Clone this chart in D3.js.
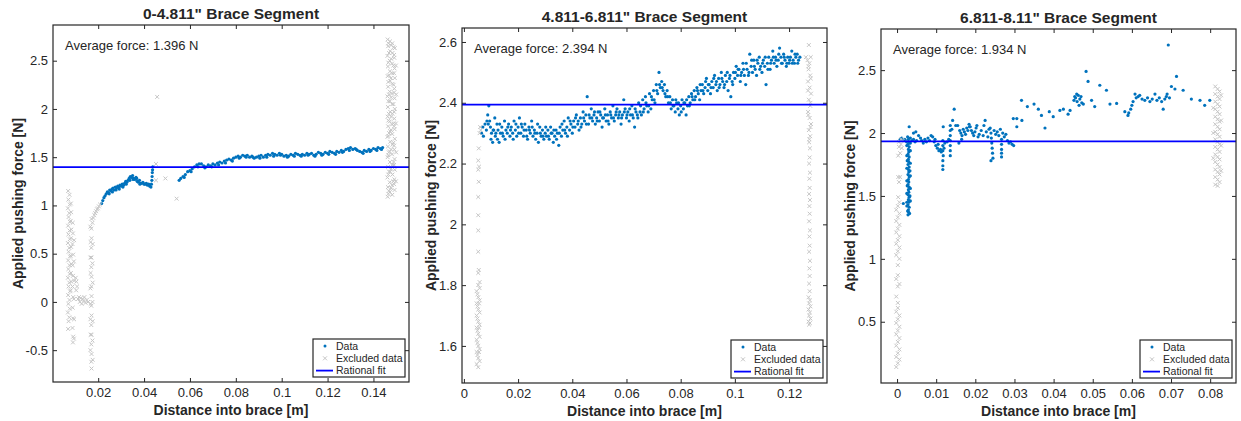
<!DOCTYPE html>
<html>
<head>
<meta charset="utf-8">
<script src="https://cdn.jsdelivr.net/npm/d3@7"></script>
<style>
  body { margin: 0; background: #fff; }
  text { font-family: "Liberation Sans", Arial, Helvetica, sans-serif; fill: #262626; }
</style>
</head>
<body>
<svg id="chart" width="1241" height="421"></svg>
<script>
// ---- values ----
const titles = ['0-4.811" Brace Segment', '4.811-6.811" Brace Segment', '6.811-8.11" Brace Segment'];
const averages = [1.396, 2.394, 1.934];
const xDomains = [[0.0003, 0.1555], [-0.0007, 0.134], [-0.0041, 0.0866]];
const yDomains = [[-0.83, 2.87], [1.478, 2.646], [0.013, 2.827]];
const xTicks = [[0.02, 0.04, 0.06, 0.08, 0.1, 0.12, 0.14], [0, 0.02, 0.04, 0.06, 0.08, 0.1, 0.12], [0, 0.01, 0.02, 0.03, 0.04, 0.05, 0.06, 0.07, 0.08]];
const yTicks = [[-0.5, 0, 0.5, 1, 1.5, 2, 2.5], [1.6, 1.8, 2, 2.2, 2.4, 2.6], [0.5, 1, 1.5, 2, 2.5]];
const legendItems = ["Data", "Excluded data", "Rational fit"];

const p1Data = [
  [0.0215,1.02],[0.0220,1.05],[0.0225,1.08],[0.0230,1.10],[0.0235,1.12],[0.0240,1.14],[0.0245,1.13],[0.0250,1.16],[0.0255,1.15],[0.0260,1.17],
  [0.0265,1.18],[0.0270,1.16],[0.0275,1.19],[0.0280,1.18],[0.0285,1.20],[0.0290,1.19],[0.0295,1.21],[0.0300,1.20],[0.0305,1.22],[0.0310,1.21],
  [0.0315,1.23],[0.0320,1.25],[0.0325,1.24],[0.0330,1.26],[0.0335,1.28],[0.0340,1.30],[0.0345,1.29],[0.0350,1.31],[0.0355,1.28],[0.0360,1.27],
  [0.0365,1.29],[0.0370,1.25],[0.0375,1.24],[0.0380,1.26],[0.0385,1.23],[0.0390,1.23],[0.0395,1.24],[0.0400,1.22],[0.0405,1.22],[0.0410,1.23],
  [0.0415,1.21],[0.0420,1.22],[0.0425,1.20],[0.0430,1.19],[0.0432,1.22],[0.0434,1.26],[0.0435,1.30],[0.0436,1.34],[0.0437,1.37],[0.0438,1.40],
  [0.0248,1.12],[0.0262,1.14],[0.0278,1.16],[0.0292,1.17],[0.0308,1.19],[0.0322,1.22],[0.0338,1.26],[0.0352,1.27],[0.0368,1.28],[0.0382,1.22],
  [0.0553,1.26],[0.0560,1.28],[0.0570,1.30],[0.0580,1.32],[0.0590,1.35],[0.0600,1.36],[0.0610,1.38],[0.0620,1.40],[0.0630,1.42],[0.0640,1.43],
  [0.0650,1.43],[0.0660,1.41],[0.0670,1.40],[0.0680,1.42],[0.0690,1.41],[0.0700,1.43],[0.0710,1.42],[0.0720,1.44],[0.0730,1.45],[0.0740,1.44],
  [0.0750,1.46],[0.0760,1.47],[0.0770,1.48],[0.0780,1.47],[0.0790,1.49],[0.0800,1.50],[0.0810,1.51],[0.0820,1.50],[0.0830,1.52],[0.0840,1.51],
  [0.0850,1.52],[0.0860,1.50],[0.0870,1.51],[0.0880,1.49],[0.0890,1.50],[0.0900,1.51],[0.0910,1.52],[0.0920,1.50],[0.0930,1.52],[0.0940,1.53],
  [0.0950,1.52],[0.0960,1.54],[0.0970,1.53],[0.0980,1.52],[0.0990,1.54],[0.1000,1.53],[0.1010,1.51],[0.1020,1.52],[0.1030,1.51],[0.1040,1.53],
  [0.1050,1.52],[0.1060,1.54],[0.1070,1.53],[0.1080,1.52],[0.1090,1.53],[0.1100,1.52],[0.1110,1.54],[0.1120,1.53],[0.1130,1.54],[0.1140,1.52],
  [0.1150,1.53],[0.1160,1.55],[0.1170,1.54],[0.1180,1.53],[0.1190,1.55],[0.1200,1.54],[0.1210,1.56],[0.1220,1.55],[0.1230,1.54],[0.1240,1.56],
  [0.1250,1.55],[0.1260,1.57],[0.1270,1.56],[0.1280,1.58],[0.1290,1.59],[0.1300,1.60],[0.1310,1.58],[0.1320,1.59],[0.1330,1.57],[0.1340,1.56],
  [0.1350,1.55],[0.1360,1.57],[0.1370,1.56],[0.1380,1.58],[0.1390,1.57],[0.1400,1.59],[0.1410,1.58],[0.1420,1.60],[0.1430,1.59],[0.1440,1.60],
  [0.0575,1.29],[0.0605,1.35],[0.0635,1.40],[0.0665,1.39],[0.0695,1.40],[0.0725,1.42],[0.0755,1.44],[0.0785,1.46],[0.0815,1.49],[0.0845,1.50],
  [0.0875,1.50],[0.0905,1.49],[0.0935,1.50],[0.0965,1.51],[0.0995,1.52],[0.1025,1.50],[0.1055,1.51],[0.1085,1.51],[0.1115,1.52],[0.1145,1.51],
  [0.1175,1.52],[0.1205,1.53],[0.1235,1.53],[0.1265,1.55],[0.1295,1.57],[0.1325,1.58],[0.1355,1.54],[0.1385,1.56],[0.1415,1.57],[0.1435,1.58]
];
const p1Excl = [
  [0.0069,1.15],[0.0070,1.06],[0.0068,0.97],[0.0071,0.88],[0.0069,0.79],[0.0070,0.70],[0.0068,0.61],[0.0071,0.52],[0.0069,0.43],[0.0070,0.34],
  [0.0068,0.25],[0.0071,0.16],[0.0069,0.07],[0.0070,-0.02],[0.0068,-0.11],[0.0071,-0.20],[0.0069,-0.28],
  [0.0075,1.11],[0.0076,1.01],[0.0074,0.92],[0.0077,0.83],[0.0075,0.74],[0.0076,0.65],[0.0074,0.56],[0.0077,0.47],[0.0075,0.38],[0.0076,0.29],
  [0.0074,0.20],[0.0077,0.11],[0.0075,0.02],[0.0076,-0.07],[0.0074,-0.16],
  [0.0081,1.02],[0.0082,0.93],[0.0080,0.84],[0.0083,0.75],[0.0081,0.66],[0.0082,0.57],[0.0080,0.48],[0.0083,0.39],[0.0081,0.30],[0.0082,0.21],[0.0080,0.12],
  [0.0089,0.82],[0.0090,0.71],[0.0088,0.60],[0.0091,0.49],[0.0089,0.38],[0.0090,0.27],[0.0088,0.16],[0.0091,0.05],[0.0089,-0.06],[0.0090,-0.17],
  [0.0088,-0.27],[0.0091,-0.36],[0.0090,-0.42],
  [0.0095,0.64],[0.0094,0.42],[0.0095,0.22],[0.0094,0.03],[0.0095,-0.18],[0.0094,-0.38],
  [0.0102,0.25],[0.0105,0.21],[0.0108,0.16],[0.0104,0.12],[0.0112,0.03],[0.0116,0.05],[0.0120,0.00],[0.0124,0.04],[0.0128,-0.02],[0.0132,0.03],
  [0.0136,0.01],[0.0140,0.05],[0.0145,-0.01],[0.0150,0.02],[0.0156,0.00],
  [0.0166,0.78],[0.0167,0.62],[0.0166,0.46],[0.0167,0.30],[0.0166,0.14],[0.0167,-0.02],[0.0166,-0.18],[0.0167,-0.34],[0.0166,-0.50],
  [0.0171,0.86],[0.0170,0.76],[0.0171,0.66],[0.0170,0.56],[0.0171,0.46],[0.0170,0.36],[0.0171,0.26],[0.0170,0.16],[0.0171,0.06],[0.0170,-0.04],
  [0.0171,-0.14],[0.0170,-0.24],[0.0171,-0.34],[0.0170,-0.44],[0.0171,-0.54],[0.0170,-0.62],[0.0171,-0.69],
  [0.0175,0.82],[0.0176,0.60],[0.0175,0.40],[0.0176,0.20],[0.0175,0.00],[0.0176,-0.20],[0.0175,-0.40],[0.0176,-0.60],
  [0.0179,0.87],[0.0183,0.90],[0.0187,0.92],[0.0191,0.94],[0.0195,0.96],[0.0199,0.97],[0.0203,0.99],[0.0208,1.01],
  [0.0457,2.125],[0.0452,1.43],[0.0452,1.26],[0.0493,1.28],[0.0542,1.07],
  [0.1462,1.09],[0.1463,1.19],[0.1461,1.29],[0.1464,1.40],[0.1462,1.50],[0.1463,1.61],[0.1461,1.71],[0.1464,1.82],[0.1462,1.92],[0.1463,2.02],
  [0.1461,2.13],[0.1464,2.23],[0.1462,2.34],[0.1463,2.44],[0.1461,2.55],[0.1464,2.65],[0.1462,2.72],
  [0.1472,1.14],[0.1471,1.24],[0.1473,1.35],[0.1472,1.45],[0.1471,1.56],[0.1473,1.66],[0.1472,1.77],[0.1471,1.87],[0.1473,1.97],[0.1472,2.08],
  [0.1471,2.18],[0.1473,2.29],[0.1472,2.39],[0.1471,2.50],[0.1473,2.60],[0.1472,2.70],
  [0.1482,1.11],[0.1481,1.21],[0.1483,1.32],[0.1482,1.42],[0.1481,1.53],[0.1483,1.63],[0.1482,1.74],[0.1481,1.84],[0.1483,1.95],[0.1482,2.05],
  [0.1481,2.16],[0.1483,2.26],[0.1482,2.37],[0.1481,2.47],[0.1483,2.58],[0.1482,2.68],
  [0.1492,1.16],[0.1491,1.27],[0.1493,1.37],[0.1492,1.48],[0.1491,1.58],[0.1493,1.69],[0.1492,1.79],[0.1491,1.90],[0.1493,2.00],[0.1492,2.11],
  [0.1491,2.21],[0.1493,2.32],[0.1492,2.42],[0.1491,2.53],[0.1493,2.63],
  [0.1467,1.15],[0.1468,1.35],[0.1467,1.55],[0.1468,1.75],[0.1467,1.95],[0.1468,2.15],[0.1467,2.35],[0.1468,2.58],
  [0.1487,1.25],[0.1488,1.45],[0.1487,1.65],[0.1488,1.85],[0.1487,2.05],[0.1488,2.25],[0.1487,2.45],[0.1488,2.64],
  [0.1498,1.25],[0.1499,1.55],[0.1498,1.85],[0.1499,2.15],[0.1498,2.45],
  [0.1465,1.12],[0.1477,1.18],[0.1490,1.22],[0.1465,1.32],[0.1477,1.38],[0.1490,1.42],[0.1465,1.52],[0.1477,1.58],[0.1490,1.62],[0.1465,1.72],
  [0.1477,1.78],[0.1490,1.82],[0.1465,1.88],[0.1477,1.92],[0.1490,1.97],[0.1465,2.08],[0.1477,2.12],[0.1490,2.17],[0.1465,2.28],[0.1477,2.32],
  [0.1490,2.37],[0.1465,2.48],[0.1477,2.52],[0.1490,2.56],[0.1465,2.68],[0.1477,2.66]
];

const p2Data = [
  [0.0065,2.30],[0.0072,2.29],[0.0078,2.33],[0.0083,2.31],[0.0088,2.36],[0.0092,2.39],[0.0095,2.34],[0.0098,2.32],[0.0102,2.30],[0.0106,2.27],
  [0.0110,2.31],[0.0114,2.35],[0.0118,2.30],[0.0122,2.33],[0.0126,2.31],[0.0130,2.27],[0.0135,2.30],[0.0140,2.32],[0.0145,2.29],[0.0150,2.34],
  [0.0155,2.31],[0.0160,2.30],[0.0165,2.33],[0.0170,2.29],[0.0175,2.32],[0.0180,2.30],[0.0185,2.34],[0.0190,2.31],[0.0195,2.29],[0.0200,2.32],
  [0.0205,2.35],[0.0210,2.30],[0.0215,2.32],[0.0220,2.29],[0.0225,2.33],[0.0230,2.31],[0.0235,2.28],[0.0240,2.32],[0.0245,2.30],[0.0250,2.34],
  [0.0255,2.29],[0.0260,2.31],[0.0265,2.28],[0.0270,2.30],[0.0275,2.27],[0.0280,2.32],[0.0285,2.29],[0.0290,2.31],[0.0295,2.28],[0.0300,2.30],
  [0.0305,2.29],[0.0310,2.31],[0.0315,2.28],[0.0320,2.32],[0.0325,2.30],[0.0330,2.27],[0.0335,2.29],[0.0340,2.31],[0.0345,2.30],[0.0350,2.26],
  [0.0355,2.32],[0.0360,2.29],[0.0365,2.31],[0.0370,2.34],[0.0375,2.30],[0.0380,2.32],[0.0385,2.35],[0.0390,2.31],[0.0395,2.33],[0.0400,2.30],
  [0.0405,2.34],[0.0410,2.32],[0.0415,2.36],[0.0420,2.33],[0.0425,2.31],[0.0430,2.35],[0.0435,2.33],[0.0440,2.37],[0.0445,2.34],[0.0450,2.36],
  [0.0455,2.42],[0.0460,2.33],[0.0465,2.35],[0.0470,2.38],[0.0475,2.34],[0.0480,2.36],[0.0485,2.33],[0.0490,2.35],[0.0495,2.37],[0.0500,2.34],
  [0.0505,2.36],[0.0510,2.32],[0.0515,2.35],[0.0520,2.38],[0.0525,2.34],[0.0530,2.36],[0.0535,2.33],[0.0540,2.37],[0.0545,2.35],[0.0550,2.39],
  [0.0555,2.34],[0.0560,2.36],[0.0565,2.38],[0.0570,2.35],[0.0575,2.37],[0.0580,2.33],[0.0585,2.36],[0.0590,2.41],[0.0595,2.38],[0.0600,2.35],
  [0.0605,2.37],[0.0610,2.34],[0.0615,2.36],[0.0620,2.39],[0.0625,2.35],[0.0630,2.32],[0.0635,2.37],[0.0640,2.36],[0.0645,2.40],[0.0650,2.37],
  [0.0655,2.36],[0.0660,2.41],[0.0665,2.38],[0.0670,2.42],[0.0675,2.39],[0.0680,2.37],[0.0685,2.43],[0.0690,2.38],[0.0695,2.41],[0.0700,2.44],
  [0.0705,2.40],[0.0710,2.46],[0.0715,2.43],[0.0720,2.50],[0.0725,2.45],[0.0730,2.47],[0.0735,2.44],[0.0740,2.46],[0.0745,2.42],[0.0750,2.44],
  [0.0755,2.40],[0.0760,2.42],[0.0765,2.38],[0.0770,2.41],[0.0775,2.39],[0.0780,2.37],[0.0785,2.40],[0.0790,2.38],[0.0795,2.36],[0.0800,2.39],
  [0.0805,2.41],[0.0810,2.38],[0.0815,2.40],[0.0820,2.36],[0.0825,2.39],[0.0830,2.42],[0.0835,2.40],[0.0840,2.43],[0.0845,2.41],[0.0850,2.44],
  [0.0855,2.42],[0.0860,2.45],[0.0865,2.43],[0.0870,2.41],[0.0875,2.44],[0.0880,2.46],[0.0885,2.43],[0.0890,2.45],[0.0895,2.48],[0.0900,2.44],
  [0.0905,2.46],[0.0910,2.43],[0.0915,2.47],[0.0920,2.45],[0.0925,2.49],[0.0930,2.46],[0.0935,2.44],[0.0940,2.48],[0.0945,2.46],[0.0950,2.50],
  [0.0955,2.47],[0.0960,2.45],[0.0965,2.49],[0.0970,2.47],[0.0975,2.44],[0.0980,2.48],[0.0985,2.42],[0.0990,2.47],[0.0995,2.50],[0.1000,2.48],
  [0.1005,2.52],[0.1010,2.49],[0.1015,2.51],[0.1020,2.47],[0.1025,2.50],[0.1030,2.53],[0.1035,2.49],[0.1040,2.46],[0.1045,2.51],[0.1050,2.49],
  [0.1055,2.56],[0.1060,2.52],[0.1065,2.50],[0.1070,2.54],[0.1075,2.51],[0.1080,2.49],[0.1085,2.53],[0.1090,2.55],[0.1095,2.52],[0.1100,2.50],
  [0.1105,2.54],[0.1110,2.52],[0.1115,2.46],[0.1120,2.53],[0.1125,2.55],[0.1130,2.51],[0.1135,2.54],[0.1140,2.57],[0.1145,2.53],[0.1150,2.55],
  [0.1155,2.52],[0.1160,2.54],[0.1165,2.58],[0.1170,2.55],[0.1175,2.53],[0.1180,2.56],[0.1185,2.54],[0.1190,2.52],[0.1195,2.55],[0.1200,2.53],
  [0.1205,2.55],[0.1210,2.57],[0.1215,2.54],[0.1220,2.53],[0.1225,2.55],[0.1230,2.56],[0.1235,2.54],[0.1240,2.55],
  [0.0070,2.32],[0.0085,2.34],[0.0090,2.33],[0.0100,2.28],[0.0108,2.31],[0.0116,2.29],[0.0124,2.28],[0.0132,2.33],[0.0142,2.30],[0.0152,2.28],
  [0.0162,2.32],[0.0172,2.31],[0.0182,2.28],[0.0192,2.33],[0.0202,2.30],[0.0212,2.33],[0.0222,2.31],[0.0232,2.29],[0.0242,2.31],[0.0252,2.32],
  [0.0262,2.30],[0.0272,2.33],[0.0282,2.30],[0.0292,2.29],[0.0302,2.32],[0.0312,2.29],[0.0322,2.30],[0.0332,2.31],[0.0342,2.28],[0.0352,2.30],
  [0.0362,2.33],[0.0372,2.31],[0.0382,2.29],[0.0392,2.34],[0.0402,2.32],[0.0412,2.35],[0.0422,2.34],[0.0432,2.32],[0.0442,2.35],[0.0452,2.33],
  [0.0462,2.36],[0.0472,2.35],[0.0482,2.37],[0.0492,2.34],[0.0502,2.37],[0.0512,2.35],[0.0522,2.36],[0.0532,2.34],[0.0542,2.36],[0.0552,2.35],
  [0.0562,2.37],[0.0572,2.36],[0.0582,2.35],[0.0592,2.37],[0.0602,2.36],[0.0612,2.38],[0.0622,2.36],[0.0632,2.38],[0.0642,2.35],[0.0652,2.39],
  [0.0662,2.37],[0.0672,2.40],[0.0682,2.39],[0.0692,2.42],[0.0702,2.41],[0.0712,2.44],[0.0722,2.46],[0.0732,2.45],[0.0742,2.43],[0.0752,2.42],
  [0.0762,2.40],[0.0772,2.39],[0.0782,2.41],[0.0792,2.40],[0.0802,2.37],[0.0812,2.40],[0.0822,2.41],[0.0832,2.39],[0.0842,2.42],[0.0852,2.41],
  [0.0862,2.44],[0.0872,2.46],[0.0882,2.44],[0.0892,2.47],[0.0902,2.46],[0.0912,2.45],[0.0922,2.48],[0.0932,2.47],[0.0942,2.45],[0.0952,2.48],
  [0.0962,2.46],[0.0972,2.50],[0.0982,2.49],[0.0992,2.46],[0.1002,2.50],[0.1012,2.51],[0.1022,2.49],[0.1032,2.51],[0.1042,2.53],[0.1052,2.50],
  [0.1062,2.54],[0.1072,2.52],[0.1082,2.54],[0.1092,2.51],[0.1102,2.53],[0.1112,2.55],[0.1122,2.51],[0.1132,2.53],[0.1142,2.55],[0.1152,2.54],
  [0.1162,2.56],[0.1172,2.53],[0.1182,2.55],[0.1192,2.53],[0.1202,2.54],[0.1212,2.53],[0.1222,2.56],[0.1232,2.53]
];
const p2Excl = [
  [0.0047,1.54],[0.0047,1.58],[0.0047,1.62],[0.0047,1.66],[0.0047,1.70],[0.0047,1.74],[0.0047,1.78],
  [0.0053,1.53],[0.0053,1.56],[0.0053,1.60],[0.0053,1.64],[0.0053,1.68],[0.0053,1.72],[0.0053,1.76],[0.0053,1.80],
  [0.0058,1.55],[0.0058,1.59],[0.0058,1.63],[0.0058,1.67],[0.0058,1.71],[0.0058,1.75],[0.0058,1.79],[0.0058,1.81],
  [0.0050,1.57],[0.0050,1.61],[0.0050,1.65],[0.0050,1.69],[0.0050,1.73],[0.0050,1.77],[0.0056,1.58],[0.0056,1.66],[0.0056,1.74],
  [0.0053,1.84],[0.0055,1.85],[0.0053,1.91],[0.0053,1.98],[0.0053,2.03],[0.0053,2.09],[0.0055,2.14],[0.0053,2.18],[0.0056,2.19],[0.0053,2.21],
  [0.0055,2.25],[0.0058,2.30],[0.0062,2.31],[0.0060,2.32],
  [0.1273,2.59],[0.1262,2.55],[0.1268,2.54],[0.1275,2.53],[0.1280,2.55],[0.1272,2.51],[0.1278,2.49],[0.1270,2.47],[0.1276,2.45],[0.1281,2.43],
  [0.1273,2.41],[0.1278,2.39],[0.1270,2.37],[0.1276,2.35],[0.1281,2.33],[0.1273,2.31],[0.1278,2.29],[0.1274,2.27],[0.1277,2.25],[0.1272,2.52],
  [0.1280,2.48],[0.1270,2.44],[0.1279,2.40],[0.1271,2.36],[0.1279,2.32],[0.1275,2.28],
  [0.1276,2.22],[0.1274,2.20],[0.1277,2.17],[0.1275,2.15],[0.1276,2.12],[0.1274,2.10],[0.1277,2.08],[0.1275,2.06],[0.1276,2.035],[0.1274,2.01],
  [0.1277,1.98],[0.1275,1.96],[0.1276,1.93],[0.1274,1.91],[0.1277,1.88],[0.1275,1.855],[0.1276,1.83],[0.1274,1.805],
  [0.1272,1.76],[0.1277,1.75],[0.1274,1.74],[0.1279,1.73],[0.1272,1.72],[0.1277,1.71],[0.1274,1.70],[0.1279,1.69],[0.1272,1.68],[0.1277,1.675],
  [0.1274,1.67],[0.1276,1.78]
];

const p3Data = [
  [0.0028,1.35],[0.0030,1.37],[0.0029,1.39],[0.0031,1.41],[0.0028,1.43],[0.0030,1.45],[0.0029,1.47],[0.0031,1.49],[0.0028,1.51],[0.0030,1.53],
  [0.0029,1.55],[0.0031,1.57],[0.0028,1.59],[0.0030,1.61],[0.0029,1.63],[0.0031,1.65],[0.0028,1.67],[0.0030,1.69],[0.0029,1.71],[0.0031,1.73],
  [0.0028,1.75],[0.0030,1.77],[0.0029,1.79],[0.0031,1.81],[0.0028,1.83],[0.0030,1.85],[0.0029,1.87],[0.0031,1.89],[0.0028,1.91],[0.0030,1.93],
  [0.0029,1.95],[0.0027,1.97],[0.0025,1.45],[0.0027,1.38],[0.0032,1.36],[0.0016,1.44],
  [0.0025,1.42],[0.0034,1.46],[0.0025,1.52],[0.0034,1.56],[0.0025,1.62],[0.0034,1.66],[0.0025,1.72],[0.0034,1.76],[0.0025,1.82],[0.0034,1.86],
  [0.0025,1.90],[0.0034,1.92],[0.0026,1.58],[0.0033,1.70],[0.0026,1.78],[0.0033,1.50],
  [0.0008,1.95],[0.0012,1.96],[0.0016,1.94],[0.0020,1.95],[0.0024,1.93],[0.0034,1.96],[0.0038,1.94],[0.0042,1.95],[0.0046,1.93],[0.0050,1.94],
  [0.0031,2.05],[0.0042,2.00],[0.0048,2.01],[0.0055,1.98],[0.0060,1.96],
  [0.0063,1.94],[0.0067,1.92],[0.0071,1.95],[0.0075,1.93],[0.0079,1.96],[0.0083,1.94],[0.0087,1.98],[0.0091,1.97],[0.0095,1.93],[0.0099,1.90],
  [0.0103,1.88],[0.0107,1.86],[0.0111,1.87],[0.0113,1.85],[0.0105,1.91],[0.0097,1.95],
  [0.0117,1.94],[0.0117,1.90],[0.0117,1.86],[0.0118,1.82],[0.0117,1.78],[0.0117,1.74],[0.0117,1.71],[0.0118,2.05],[0.0120,1.88],[0.0122,1.92],
  [0.0136,2.06],[0.0136,2.02],[0.0136,1.98],[0.0136,1.94],[0.0136,1.90],[0.0136,1.86],[0.0136,1.82],[0.0142,2.10],[0.0146,2.19],[0.0132,1.95],
  [0.0128,1.93],[0.0140,2.03],
  [0.0150,2.06],[0.0155,2.06],[0.0160,2.02],[0.0163,2.00],[0.0166,1.98],[0.0169,2.03],[0.0172,2.01],[0.0175,1.99],[0.0178,2.04],[0.0181,2.02],
  [0.0184,2.07],[0.0187,2.05],[0.0190,2.02],[0.0193,2.00],[0.0196,1.98],[0.0199,2.01],[0.0202,2.04],[0.0204,2.06],[0.0207,1.97],[0.0210,1.99],
  [0.0165,1.95],[0.0158,1.92],[0.0225,2.10],[0.0222,2.06],[0.0185,2.05],
  [0.0238,2.04],[0.0240,2.00],[0.0241,1.96],[0.0242,1.92],[0.0243,1.88],[0.0244,1.84],[0.0245,1.80],[0.0240,1.78],
  [0.0215,2.02],[0.0220,1.98],[0.0228,2.01],[0.0232,1.97],[0.0235,2.03],[0.0248,2.02],[0.0252,1.99],[0.0256,2.01],[0.0260,1.98],[0.0264,2.03],
  [0.0270,2.00],[0.0274,1.97],[0.0278,1.99],
  [0.0267,1.95],[0.0267,1.91],[0.0267,1.87],[0.0267,1.84],[0.0267,1.81],
  [0.0282,1.94],[0.0286,1.92],[0.0290,1.93],[0.0294,1.91],[0.0298,1.90],[0.0297,2.115],[0.0306,2.115],[0.0306,2.05],[0.0319,2.10],
  [0.0318,2.26],[0.0333,2.21],[0.0350,2.23],[0.0361,2.19],[0.0369,2.14],[0.0378,2.04],[0.0389,2.17],[0.0399,2.13],[0.0416,2.18],[0.0425,2.19],
  [0.0437,2.15],[0.0442,2.18],[0.0454,2.29],[0.0459,2.31],[0.0467,2.27],[0.0476,2.23],[0.0483,2.49],[0.0488,2.41],[0.0497,2.26],[0.0505,2.21],
  [0.0518,2.38],[0.0535,2.34],[0.0544,2.23],[0.0561,2.235],[0.0582,2.17],[0.0590,2.14],[0.0603,2.25],[0.0608,2.31],[0.0616,2.29],[0.0633,2.26],
  [0.0646,2.25],[0.0659,2.31],[0.0676,2.25],[0.0680,2.19],[0.0688,2.29],[0.0693,2.70],[0.0701,2.37],[0.0714,2.45],[0.0710,2.35],[0.0731,2.34],
  [0.0752,2.27],[0.0774,2.26],[0.0786,2.22],[0.0799,2.26],
  [0.0452,2.26],[0.0456,2.28],[0.0460,2.25],[0.0463,2.30],[0.0470,2.29],[0.0472,2.24],[0.0465,2.22],[0.0592,2.16],[0.0597,2.19],[0.0600,2.22],
  [0.0611,2.28],[0.0620,2.30],[0.0626,2.27],[0.0640,2.28],[0.0652,2.27],[0.0664,2.26],[0.0670,2.28],[0.0684,2.27],[0.0690,2.31],[0.0696,2.28]
];
const p3Excl = [
  [-0.0002,0.14],[0.0002,0.17],[0.0006,0.20],[-0.0002,0.22],[0.0002,0.25],[0.0006,0.28],[-0.0002,0.31],[0.0002,0.34],[0.0006,0.37],[-0.0002,0.40],
  [0.0002,0.43],[0.0006,0.46],[-0.0002,0.49],[0.0002,0.52],[0.0006,0.55],[-0.0002,0.58],[0.0002,0.61],[0.0002,0.65],[-0.0002,0.70],[0.0002,0.78],
  [0.0006,0.80],[-0.0002,0.84],[0.0002,0.87],[0.0002,0.95],[0.0006,1.00],[-0.0002,1.03],[0.0002,1.06],[0.0006,1.09],[-0.0002,1.12],[0.0002,1.15],
  [0.0006,1.18],[-0.0002,1.21],[0.0002,1.24],[0.0006,1.27],[-0.0002,1.30],[0.0002,1.33],[0.0006,1.36],[-0.0002,1.39],[0.0002,1.42],[0.0006,1.45],
  [0.0003,1.49],[0.0005,1.61],[0.0003,1.65],[0.0008,1.65],[0.0003,1.82],[0.0008,1.84],[0.0005,1.89],[0.0010,1.91],[0.0005,1.93],[0.0010,1.95],
  [0.0015,1.94],[0.0012,1.88],
  [0.0813,2.37],[0.0819,2.35],[0.0824,2.33],[0.0813,2.31],[0.0819,2.29],[0.0824,2.27],[0.0813,2.25],[0.0819,2.23],[0.0824,2.21],[0.0813,2.19],
  [0.0819,2.17],[0.0824,2.15],[0.0813,2.13],[0.0819,2.11],[0.0824,2.09],[0.0813,2.07],[0.0819,2.05],[0.0824,2.03],[0.0813,2.01],[0.0819,1.99],
  [0.0824,1.97],[0.0813,1.95],[0.0819,1.93],[0.0824,1.91],[0.0813,1.89],[0.0819,1.87],[0.0824,1.85],[0.0813,1.83],[0.0819,1.81],[0.0824,1.79],
  [0.0813,1.77],[0.0819,1.75],[0.0824,1.73],[0.0813,1.71],[0.0819,1.69],[0.0824,1.67],[0.0813,1.65],[0.0819,1.63],[0.0824,1.61],[0.0813,1.59],
  [0.0819,1.58],[0.0808,2.20],[0.0808,2.00],[0.0808,1.80],[0.0828,2.30],[0.0828,2.10],[0.0828,1.90],[0.0828,1.70]
];

const panelData = [p1Data, p2Data, p3Data];
const panelExcl = [p1Excl, p2Excl, p3Excl];

// ---- layout ----
const boxes = [
  {l: 53, r: 409, t: 25, b: 382},
  {l: 462, r: 827, t: 28, b: 383},
  {l: 881, r: 1236, t: 29, b: 383}
];
const blue = "#0072BD", grey = "#c6c6c6", fitBlue = "#0000ff", ink = "#262626";
const fmt = v => String(+v.toFixed(3));

const svg = d3.select("#chart");

boxes.forEach((bx, i) => {
  const x = d3.scaleLinear().domain(xDomains[i]).range([bx.l, bx.r]);
  const y = d3.scaleLinear().domain(yDomains[i]).range([bx.b, bx.t]);
  const g = svg.append("g");

  g.append("clipPath").attr("id", "clip" + i)
    .append("rect").attr("x", bx.l).attr("y", bx.t).attr("width", bx.r - bx.l).attr("height", bx.b - bx.t);

  // axes, ticks pointing inward on all four sides
  const styleAxis = sel => {
    sel.select(".domain").remove();
    sel.selectAll("line").attr("stroke", ink);
    sel.selectAll("text").attr("font-size", 13).attr("fill", ink);
  };
  g.append("g").attr("transform", `translate(0,${bx.b})`)
    .call(d3.axisBottom(x).tickValues(xTicks[i]).tickSize(-4).tickPadding(6).tickFormat(fmt)).call(styleAxis);
  g.append("g").attr("transform", `translate(0,${bx.t})`)
    .call(d3.axisTop(x).tickValues(xTicks[i]).tickSize(-4).tickFormat("")).call(styleAxis);
  const yAx = g.append("g").attr("transform", `translate(${bx.l},0)`)
    .call(d3.axisLeft(y).tickValues(yTicks[i]).tickSize(-4).tickPadding(5).tickFormat(fmt)).call(styleAxis);
  g.append("g").attr("transform", `translate(${bx.r},0)`)
    .call(d3.axisRight(y).tickValues(yTicks[i]).tickSize(-4).tickFormat("")).call(styleAxis);

  const plot = g.append("g").attr("clip-path", `url(#clip${i})`);

  plot.selectAll("circle.dat").data(panelData[i]).enter().append("circle")
    .attr("class", "dat")
    .attr("cx", d => x(d[0])).attr("cy", d => y(d[1])).attr("r", 1.6)
    .attr("fill", blue);

  plot.selectAll("path.excl").data(panelExcl[i]).enter().append("path")
    .attr("class", "excl")
    .attr("d", d => {
      const px = x(d[0]), py = y(d[1]), s = 1.9;
      return `M${px - s},${py - s}L${px + s},${py + s}M${px - s},${py + s}L${px + s},${py - s}`;
    })
    .attr("stroke", grey).attr("stroke-width", 1).attr("fill", "none");

  plot.append("line")
    .attr("x1", bx.l).attr("x2", bx.r)
    .attr("y1", y(averages[i])).attr("y2", y(averages[i]))
    .attr("stroke", fitBlue).attr("stroke-width", 1.8);

  // box
  g.append("rect").attr("x", bx.l).attr("y", bx.t)
    .attr("width", bx.r - bx.l).attr("height", bx.b - bx.t)
    .attr("fill", "none").attr("stroke", ink).attr("stroke-width", 1.2);

  // title
  g.append("text").attr("x", (bx.l + bx.r) / 2).attr("y", bx.t - 6)
    .attr("text-anchor", "middle").attr("font-size", 15.5).attr("font-weight", "bold")
    .text(titles[i]);

  // average annotation
  g.append("text").attr("x", bx.l + 12).attr("y", bx.t + 25)
    .attr("font-size", 13).text(`Average force: ${averages[i].toFixed(3)} N`);

  // axis labels
  g.append("text").attr("x", (bx.l + bx.r) / 2).attr("y", bx.b + 33)
    .attr("text-anchor", "middle").attr("font-size", 14).attr("font-weight", "bold")
    .text("Distance into brace [m]");
  let tw = 0;
  yAx.selectAll("text").each(function() { tw = Math.max(tw, this.getComputedTextLength()); });
  const cx = bx.l - 5 - tw - 8, cy = (bx.t + bx.b) / 2;
  g.append("text").attr("transform", `translate(${cx},${cy}) rotate(-90)`)
    .attr("dy", "0.35em").attr("text-anchor", "middle").attr("font-size", 14).attr("font-weight", "bold")
    .text("Applied pushing force [N]");

  // legend
  const lw = 92, lh = 38, lx = bx.r - 4 - lw, ly = bx.b - 5 - lh;
  const lg = g.append("g").attr("transform", `translate(${lx},${ly})`);
  lg.append("rect").attr("width", lw).attr("height", lh)
    .attr("fill", "#fff").attr("stroke", ink).attr("stroke-width", 1.2);
  legendItems.forEach((name, k) => {
    const ry = 7 + k * 12.3;
    if (k === 0) lg.append("circle").attr("cx", 12).attr("cy", ry).attr("r", 1.5).attr("fill", blue);
    if (k === 1) lg.append("path").attr("d", `M10,${ry - 2}L14,${ry + 2}M10,${ry + 2}L14,${ry - 2}`)
      .attr("stroke", grey).attr("stroke-width", 1);
    if (k === 2) lg.append("line").attr("x1", 3).attr("x2", 20).attr("y1", ry).attr("y2", ry)
      .attr("stroke", fitBlue).attr("stroke-width", 1.8);
    lg.append("text").attr("x", 23).attr("y", ry).attr("dy", "0.35em").attr("font-size", 10.5).text(name);
  });
});
</script>
</body>
</html>
